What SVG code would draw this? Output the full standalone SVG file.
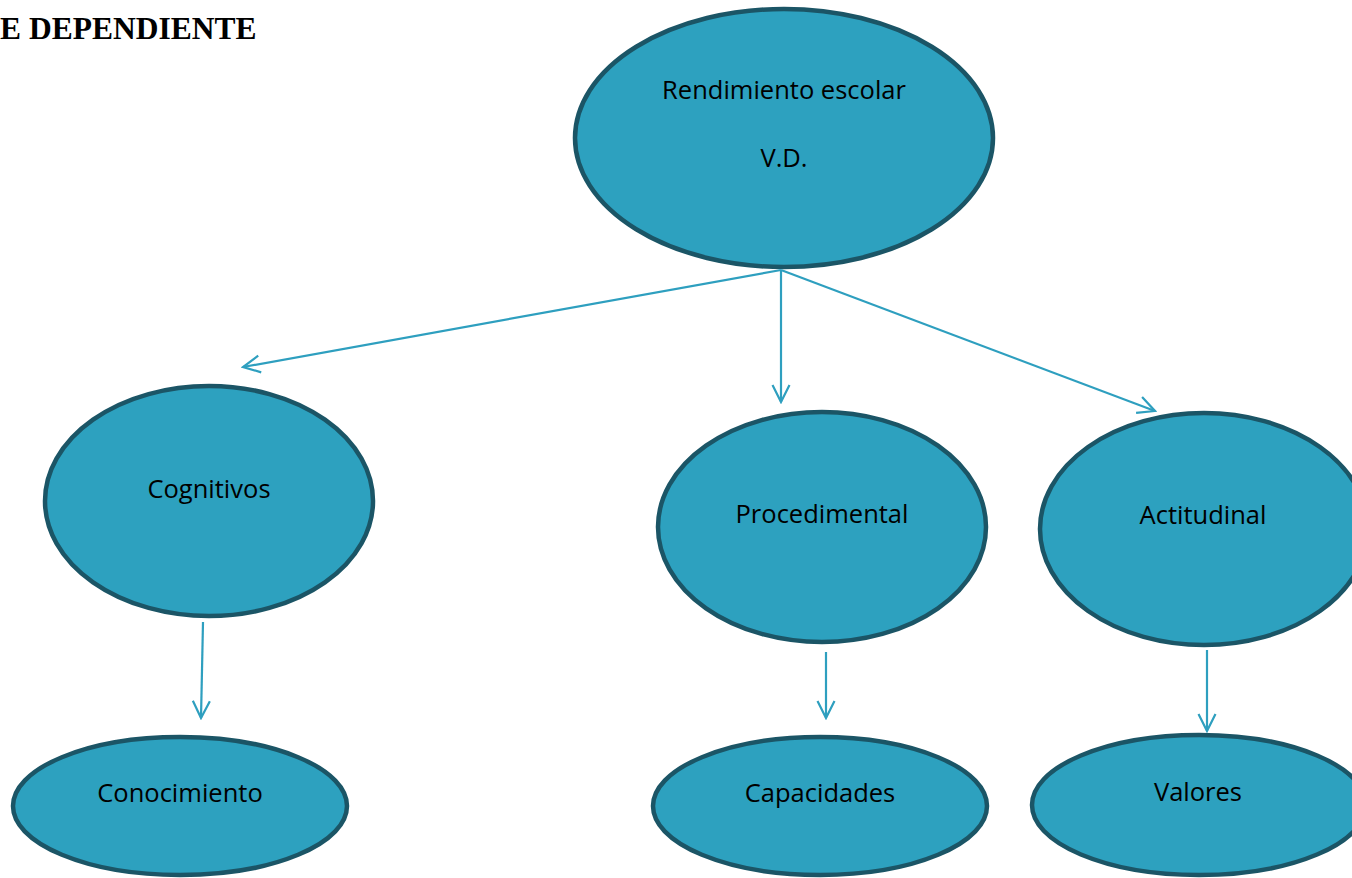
<svg xmlns="http://www.w3.org/2000/svg" width="1352" height="878" viewBox="0 0 1352 878">
<defs>
<style>
.node ellipse{fill:#2da1bf;stroke:#1b5566;stroke-width:4.5}
.node text{font-family:"Open Sans","Noto Sans",sans-serif;font-size:25.5px;fill:#000;text-anchor:middle}
.conn line{stroke:#2e9fbf;stroke-width:2.2;fill:none}
.title{font-family:"Liberation Serif","Times New Roman",serif;font-weight:bold;font-size:31.5px;fill:#000}
</style>
<marker id="arr" viewBox="0 0 20 20" refX="18" refY="10" markerWidth="20" markerHeight="20" markerUnits="userSpaceOnUse" orient="auto">
<path d="M1,1.5 L18,10 L1,18.5" fill="none" stroke="#2e9fbf" stroke-width="2.2"/>
</marker>
</defs>
<rect width="1352" height="878" fill="#fff"/>
<text class="title" x="0" y="39">E DEPENDIENTE</text>
<g id="n-top" class="node"><ellipse cx="784" cy="138" rx="209" ry="129"/><text x="784" y="99">Rendimiento escolar</text><text x="784" y="167">V.D.</text></g>
<g id="n-cog" class="node"><ellipse cx="209" cy="501" rx="164" ry="115"/><text x="209" y="498">Cognitivos</text></g>
<g id="n-proc" class="node"><ellipse cx="822" cy="527" rx="164" ry="115"/><text x="822" y="523">Procedimental</text></g>
<g id="n-act" class="node"><ellipse cx="1204" cy="529" rx="164" ry="116"/><text x="1203" y="524">Actitudinal</text></g>
<g id="n-con" class="node"><ellipse cx="180" cy="806" rx="167" ry="69"/><text x="180" y="802">Conocimiento</text></g>
<g id="n-cap" class="node"><ellipse cx="820" cy="806" rx="167" ry="69"/><text x="820" y="802">Capacidades</text></g>
<g id="n-val" class="node"><ellipse cx="1199" cy="805" rx="167" ry="70"/><text x="1198" y="801">Valores</text></g>
<g id="connectors" class="conn">
<line x1="781" y1="270" x2="243" y2="367" marker-end="url(#arr)"/>
<line x1="781" y1="270" x2="781" y2="402" marker-end="url(#arr)"/>
<line x1="781" y1="270" x2="1155" y2="411" marker-end="url(#arr)"/>
<line x1="203" y1="622" x2="201" y2="718" marker-end="url(#arr)"/>
<line x1="826" y1="652" x2="826" y2="718" marker-end="url(#arr)"/>
<line x1="1207" y1="650" x2="1207" y2="731" marker-end="url(#arr)"/>
</g>
</svg>
